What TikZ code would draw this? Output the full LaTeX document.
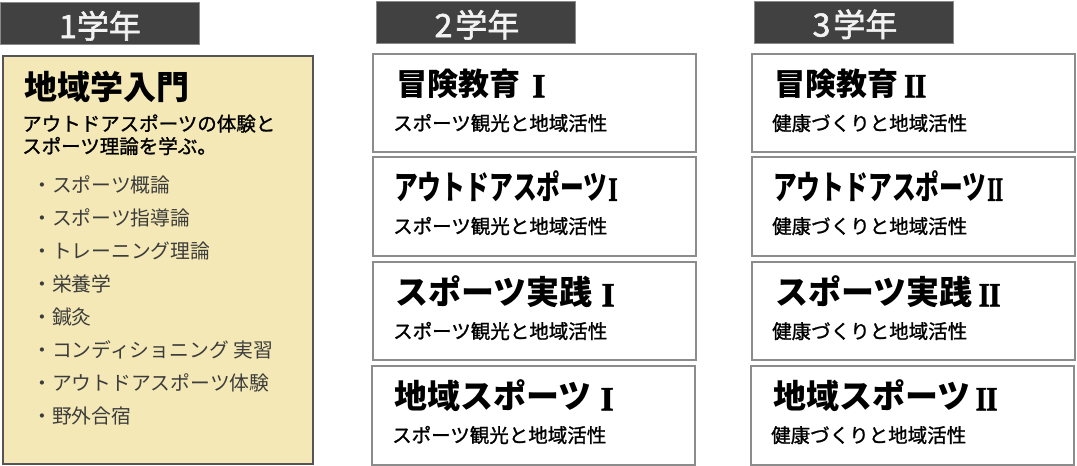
\documentclass[tikz,border=0pt]{standalone}
\usepackage{fontspec}
\newfontfamily\jp{Noto Sans CJK JP}
\newfontfamily\jpm{Noto Sans CJK JP}[FakeBold=1.2]
\newfontfamily\jph{Noto Sans CJK JP}[FakeBold=1.8]
\newfontfamily\rom{Liberation Serif}[BoldFeatures={FakeBold=1.6}]
\definecolor{hdrfill}{HTML}{414141}
\definecolor{hdrline}{HTML}{8A8A8A}
\definecolor{hdrtext}{HTML}{F2F2F2}
\definecolor{paleyellow}{HTML}{F4E9B6}
\definecolor{leftline}{HTML}{555555}
\definecolor{boxline}{HTML}{8C8C8C}
\definecolor{listgray}{HTML}{3C3C3C}
\tikzset{
  hdr/.style={draw=hdrline, line width=1pt, fill=hdrfill},
  leftbox/.style={draw=leftline, line width=1.4pt, fill=paleyellow},
  coursebox/.style={draw=boxline, line width=1.3pt, fill=white},
  hdrtxt/.style={anchor=base, inner sep=0pt, text=hdrtext, font=\jph\fontsize{32}{32}\selectfont},
  ctitle/.style={anchor=base west, inner sep=0pt, font=\jp\bfseries\fontsize{31}{31}\selectfont},
  ctitlel/.style={anchor=base west, inner sep=0pt, font=\jp\bfseries\fontsize{33}{33}\selectfont},
  csub/.style={anchor=base west, inner sep=0pt, font=\jpm\fontsize{19.5}{19.5}\selectfont},
  ltitle/.style={anchor=base west, inner sep=0pt, font=\jp\bfseries\fontsize{33}{33}\selectfont},
  ldesc/.style={anchor=base west, inner sep=0pt, font=\jpm\fontsize{19.5}{19.5}\selectfont},
  litem/.style={anchor=base west, inner sep=0pt, text=listgray, font=\jp\fontsize{19.8}{19.8}\selectfont},
}
\newcommand{\narrowtxt}[1]{\scalebox{0.72}[1]{#1}}
\newcommand{\romI}{\raisebox{-1.8pt}{\rom\bfseries\fontsize{34}{34}\selectfont I}}
\newcommand{\romII}{\raisebox{-1.8pt}{\rom\bfseries\fontsize{34}{34}\selectfont\scalebox{0.86}[1]{I\kern-0.8pt I}}}
\begin{document}
\begin{tikzpicture}[x=1pt,y=-1pt]
\useasboundingbox (0,0) rectangle (1077,466);
% headers
\node[hdr, minimum width=199pt, minimum height=42pt, anchor=north west, inner sep=0pt] (h1) at (0,2) {};
\node[hdr, minimum width=199pt, minimum height=42pt, anchor=north west, inner sep=0pt] (h2) at (376,1) {};
\node[hdr, minimum width=199pt, minimum height=42pt, anchor=north west, inner sep=0pt] (h3) at (754,0.5) {};
\node[hdrtxt] (h1t) at (100,38) {1学年};
\node[hdrtxt] (h2t) at (477,37) {2\hspace{3pt}学年};
\node[hdrtxt] (h3t) at (855,36.5) {3\hspace{3pt}学年};
% left box
\draw[leftbox] (3,56) rectangle (313,464);
\node[ltitle] (lt) at (24,99.5) {地域学入門};
\node[ldesc] (ld1) at (22,131) {アウトドアスポーツの体験と};
\node[ldesc] (ld2) at (22,153.5) {スポーツ理論を学ぶ。};
\node[litem] (i1) at (32,192.5) {・スポーツ概論};
\node[litem] (i2) at (32,225.5) {・スポーツ指導論};
\node[litem] (i3) at (32,258.5) {・トレーニング理論};
\node[litem] (i4) at (32,291.5) {・栄養学};
\node[litem] (i5) at (32,324.5) {・鍼灸};
\node[litem] (i6) at (32,357.5) {・コンディショニング 実習};
\node[litem] (i7) at (32,390.5) {・アウトドアスポーツ体験};
\node[litem] (i8) at (32,423.5) {・野外合宿};
% column 2
\draw[coursebox] (373,54) rectangle (696,152);
\draw[coursebox] (373,157) rectangle (696,256);
\draw[coursebox] (373,262) rectangle (696,360);
\draw[coursebox] (372,366) rectangle (695,465);
\node[ctitle] (a1) at (396,95.5) {冒険教育\hspace{12pt}\romI};
\node[ctitlel] (a2) at (394,199) {\narrowtxt{アウトドアスポーツ\hspace{1pt}\romI}};
\node[ctitlel] (a3) at (395,304.5) {スポーツ実践\hspace{9pt}\romI};
\node[ctitlel] (a4) at (394,408.5) {地域スポーツ\hspace{9pt}\romI};
\node[csub] (as1) at (393,130.5) {スポーツ観光と地域活性};
\node[csub] (as2) at (393,233.5) {スポーツ観光と地域活性};
\node[csub] (as3) at (393,338.5) {スポーツ観光と地域活性};
\node[csub] (as4) at (392,442.5) {スポーツ観光と地域活性};
% column 3
\draw[coursebox] (752,54) rectangle (1075,152);
\draw[coursebox] (752,157) rectangle (1075,256);
\draw[coursebox] (752,262) rectangle (1075,360);
\draw[coursebox] (751,366) rectangle (1074,465);
\node[ctitle] (b1) at (774,95.5) {冒険教育\hspace{6pt}\romII};
\node[ctitlel] (b2) at (773,199) {\narrowtxt{アウトドアスポーツ\hspace{1pt}\romII}};
\node[ctitlel] (b3) at (775,304.5) {スポーツ実践\hspace{6pt}\romII};
\node[ctitlel] (b4) at (773,408.5) {地域スポーツ\hspace{5pt}\romII};
\node[csub] (bs1) at (772,130.5) {健康づくりと地域活性};
\node[csub] (bs2) at (772,233.5) {健康づくりと地域活性};
\node[csub] (bs3) at (772,338.5) {健康づくりと地域活性};
\node[csub] (bs4) at (771,442.5) {健康づくりと地域活性};
\end{tikzpicture}
\end{document}
